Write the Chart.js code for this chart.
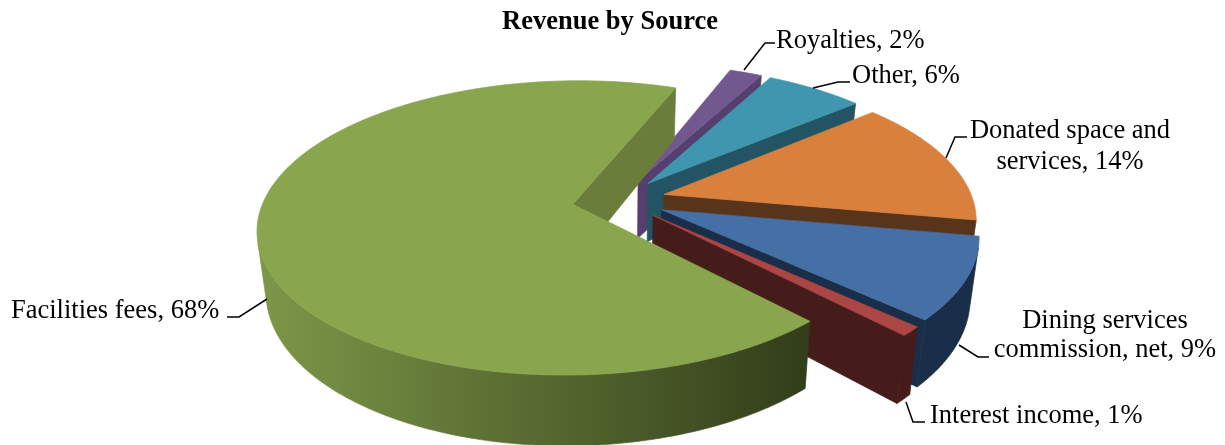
<!DOCTYPE html>
<html>
<head>
<meta charset="utf-8">
<title>Revenue by Source</title>
<script src="https://cdn.jsdelivr.net/npm/chart.js@4/dist/chart.umd.js"></script>
<style>
  html, body { margin: 0; padding: 0; background: #fff; }
  #wrap { width: 1225px; height: 445px; }
</style>
</head>
<body>
<div id="wrap"><canvas id="pie" width="1225" height="445"></canvas></div>
<script>
// Data, clockwise from the top, Facilities last so it paints over the others
const categories = ['Royalties', 'Other', 'Donated space and\nservices', 'Dining services\ncommission, net', 'Interest income', 'Facilities fees'];
const shares = [2, 6, 14, 9, 1, 68];

// Colours
const topColors = ['#71588f', '#3f96ae', '#d9803c', '#4570a6', '#aa4643', '#89a54e'];
const wallColors = ['#553f6e', '#235463', '#57341a', '#1a2e4a', '#451c1a', '#6a7d3b'];
const outerLeft = ['#553f6e', '#235463', '#57341a', '#1a2e4a', '#451c1a', '#7d9748'];
const outerRight = ['#553f6e', '#235463', '#57341a', '#1a2e4a', '#451c1a', '#323d19'];

// Where each label and its leader line sit
const labelLayout = [
    { x: 776, y: 41, gap: 0, align: 'left', leader: [[744, 70], [765, 43], [775, 43]] },
    { x: 852, y: 76, gap: 0, align: 'left', leader: [[813, 88], [838, 82], [850, 82]] },
    { x: 1070, y: 131, gap: 31, align: 'center', leader: [[946, 158], [955, 137], [967, 137]] },
    { x: 1105, y: 321, gap: 29, align: 'center', leader: [[959, 345], [978, 357], [989, 357]] },
    { x: 930, y: 416, gap: 0, align: 'left', leader: [[906, 402], [913, 422], [925, 422]] },
    { x: 11, y: 311, gap: 0, align: 'left', leader: [[267, 299], [239, 317], [227, 317]] },
];

// Camera for the tilted pie
const cam = { cx: 619, cy: 200, sx: 309, sy: 142, persp: 0.16, depth: 59, taper: 0.025 };

function project(p, z) {
    const w = 1 / (1 - cam.persp * p.y);
    return {
        x: cam.cx + cam.sx * p.x * w * (1 - cam.taper * z),
        y: cam.cy + (cam.sy * p.y + cam.depth * z) * w,
    };
}

function tracePoints(ctx, pts) {
    ctx.beginPath();
    pts.forEach((p, i) => (i ? ctx.lineTo(p.x, p.y) : ctx.moveTo(p.x, p.y)));
    ctx.closePath();
}

function quadArea(q) {
    let sum = 0;
    q.forEach((p, i) => {
        const n = q[(i + 1) % q.length];
        sum += p.x * n.y - n.x * p.y;
    });
    return sum;
}

function facesViewer(a, b) {
    return quadArea([project(a, 0), project(b, 0), project(b, 1), project(a, 1)]) < 0;
}

function paint(ctx, pts, fill) {
    ctx.fillStyle = fill;
    ctx.strokeStyle = fill;
    ctx.lineWidth = 0.7;
    tracePoints(ctx, pts);
    ctx.fill();
    ctx.stroke();
}

function drawSlice(ctx, el, index) {
    const mid = (el.startAngle + el.endAngle) / 2;
    const explode = el.options.offset / 4 / el.outerRadius;
    const ox = Math.cos(mid) * explode;
    const oy = Math.sin(mid) * explode;

    // rim in pie units
    const steps = Math.ceil((el.endAngle - el.startAngle) / 0.015);
    const rim = [];
    for (let i = 0; i <= steps; i++) {
        const t = el.startAngle + (el.endAngle - el.startAngle) * i / steps;
        rim.push({ x: Math.cos(t) + ox, y: Math.sin(t) + oy });
    }
    const tip = { x: ox, y: oy };
    const first = rim[0];
    const last = rim[rim.length - 1];

    // flat radial walls
    [[tip, first], [last, tip]].forEach(([a, b]) => {
        if (!facesViewer(a, b)) return;
        paint(ctx, [project(a, 0), project(b, 0), project(b, 1), project(a, 1)], wallColors[index]);
    });

    // the part of the rim wall that faces us, as one piece
    const front = rim.filter((p, i) => {
        const next = rim[i + 1] || p;
        const prev = rim[i - 1] || p;
        return i < rim.length - 1 ? facesViewer(p, next) : facesViewer(prev, p);
    });
    if (front.length > 1) {
        const xs = rim.map((p) => project(p, 0).x);
        const grad = ctx.createLinearGradient(Math.min(...xs), 0, Math.max(...xs), 0);
        grad.addColorStop(0, outerLeft[index]);
        grad.addColorStop(1, outerRight[index]);
        paint(ctx, [...front.map((p) => project(p, 0)), ...front.slice().reverse().map((p) => project(p, 1))], grad);
    }

    // top face
    paint(ctx, [tip, ...rim].map((p) => project(p, 0)), el.options.backgroundColor);
}

function drawLabels(ctx) {
    ctx.font = "26.5px 'Liberation Serif'";
    ctx.textBaseline = 'middle';
    categories.forEach((cat, i) => {
        const spot = labelLayout[i];
        const lines = `${cat}, ${shares[i]}%`.split('\n');
        ctx.fillStyle = '#000';
        ctx.textAlign = spot.align;
        lines.forEach((line, n) => ctx.fillText(line, spot.x, spot.y + n * spot.gap));

        ctx.strokeStyle = '#000';
        ctx.lineWidth = 1.5;
        ctx.beginPath();
        spot.leader.forEach((p, n) => (n ? ctx.lineTo(p[0], p[1]) : ctx.moveTo(p[0], p[1])));
        ctx.stroke();
    });
}

// Chart.js works out the slice angles, this paints them in 3D
const pie3d = {
    id: 'pie3d',
    beforeDatasetDraw() {
        return false;
    },
    afterDatasetsDraw(chart) {
        const ctx = chart.ctx;
        ctx.save();
        chart.getDatasetMeta(0).data.forEach((el, i) => drawSlice(ctx, el, i));
        drawLabels(ctx);
        ctx.restore();
    },
};

new Chart(document.getElementById('pie'), {
    type: 'pie',
    data: {
        labels: categories,
        datasets: [{
            data: shares,
            backgroundColor: topColors,
            borderWidth: 0,
            offset: 94,
        }],
    },
    options: {
        responsive: false,
        animation: false,
        rotation: 21,
        layout: { padding: { right: 5 } },
        plugins: {
            legend: { display: false },
            tooltip: { enabled: false },
            title: {
                display: true,
                text: 'Revenue by Source',
                color: '#000',
                font: { family: "'Liberation Serif'", size: 26.5, weight: 'bold' },
                padding: { top: 6, bottom: 3 },
            },
        },
    },
    plugins: [pie3d],
});
</script>
</body>
</html>
